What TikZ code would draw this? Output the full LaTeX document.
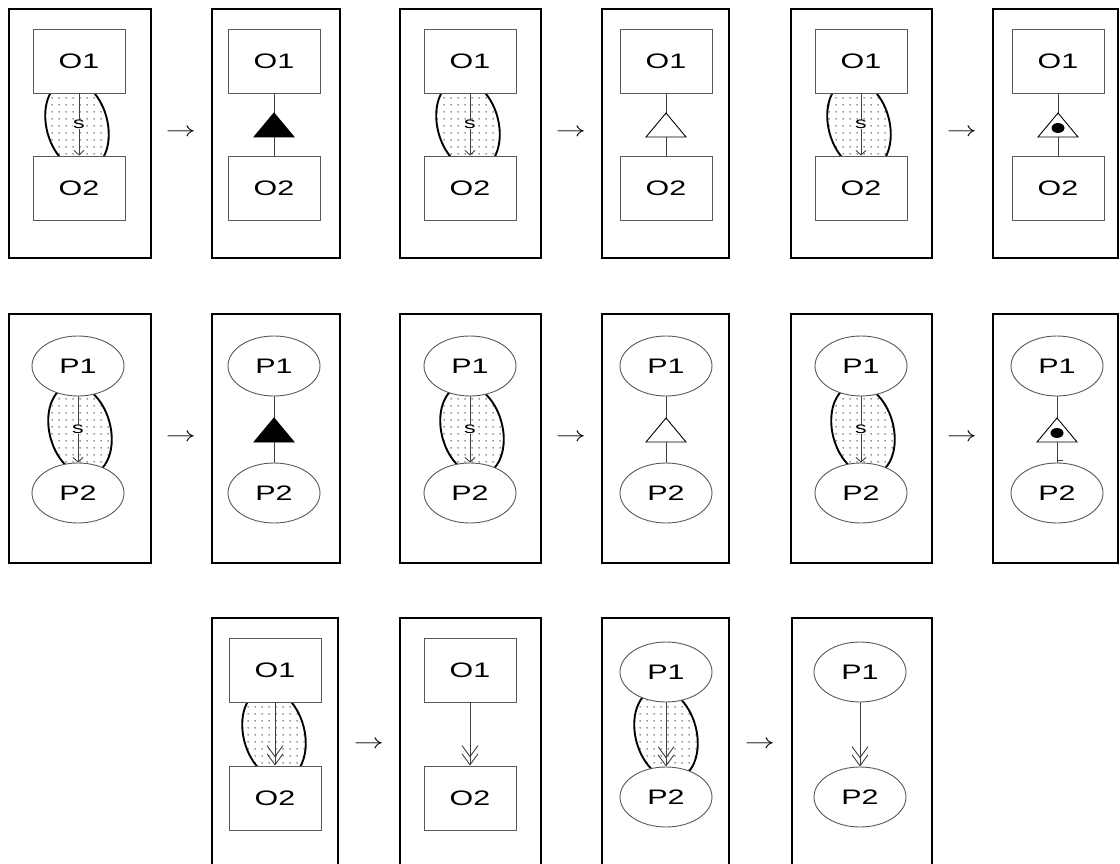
\documentclass[tikz,border=0pt]{standalone}
\usepackage{fontspec}
\setmainfont{Liberation Sans}
\usepackage{graphicx}
\usetikzlibrary{shapes.geometric,arrows.meta,patterns.meta}
\definecolor{boxgray}{gray}{0.35}
\definecolor{linegray}{gray}{0.25}
\tikzdeclarepattern{
  name=sdots,
  type=uncolored,
  bounding box={(0pt,0pt) and (7pt,7pt)},
  tile size={(7pt,7pt)},
  code={\pgfpathcircle{\pgfpoint{3.5pt}{3.5pt}}{1pt}\pgfusepath{fill}}
}
\newcommand{\wt}[1]{\scalebox{1.45}[1]{#1}}
\tikzset{
  frame/.style={draw=black,line width=2.3pt},
  obox/.style={rectangle,draw=boxgray,line width=0.9pt,fill=white,minimum width=92pt,minimum height=64pt,inner sep=0pt,font=\fontsize{21}{24}\selectfont},
  pell/.style={ellipse,draw=boxgray,line width=0.9pt,fill=white,minimum width=92pt,minimum height=60pt,inner sep=0pt,font=\fontsize{21}{24}\selectfont},
  blob/.style={ellipse,draw=black,line width=1.9pt,pattern=sdots,pattern color=black!55,minimum width=61pt,minimum height=92pt,inner sep=0pt,rotate=15},
  conn/.style={draw=linegray,line width=0.9pt},
  sarrow/.style={conn,-{Straight Barb[length=4.5pt,width=10pt]}},
  darrow/.style={conn,-{Straight Barb[length=11pt,width=16pt,sep=-4pt]Straight Barb[length=11pt,width=16pt]}},
  slab/.style={fill=white,inner sep=0.6pt,font=\fontsize{16}{16}\selectfont},
  tri/.style={draw=black,line width=0.9pt},
  stepar/.style={inner sep=0pt,font=\fontsize{20}{20}\selectfont}
}
% #1 id, #2 left, #3 right, #4 cx, #5 dy, #6 shape, #7 letter, #8 blob cx
\newcommand{\BlobPanel}[8]{%
  \draw[frame] (#2,9+#5) rectangle (#3,258+#5);
  \node[blob] (#1b) at (#8,125+#5) {};
  \node[#6] (#1t) at (#4,61+#5) {\wt{#71}};
  \node[#6] (#1u) at (#4,188+#5) {\wt{#72}};
  \draw[sarrow] (#1t) -- node[slab]{\wt{s}} (#1u);
}
% #1 id, #2 left, #3 right, #4 cx, #5 dy, #6 shape, #7 letter, #8 fill, #9 dot
\newcommand{\TriPanel}[9]{%
  \draw[frame] (#2,9+#5) rectangle (#3,258+#5);
  \node[#6] (#1t) at (#4,61+#5) {\wt{#71}};
  \node[#6] (#1u) at (#4,188+#5) {\wt{#72}};
  \coordinate (#1a) at (#4,113+#5);
  \coordinate (#1c) at (#4,137+#5);
  \draw[conn] (#1t) -- (#1a);
  \draw[conn] (#1c) -- (#1u);
  \draw[tri,fill=#8] (#1a) -- ([xshift=-20pt]#1c) -- ([xshift=20pt]#1c) -- cycle;
  \ifnum#9=1 \fill (#4,128+#5) ellipse [x radius=6.5, y radius=5];\fi
}
\begin{document}
\begin{tikzpicture}[x=1pt,y=-1pt]
\useasboundingbox (0,0) rectangle (1120,864);
% Row 1
\BlobPanel{ra}{9}{151}{79}{0}{obox}{O}{77}
\TriPanel{rb}{212}{340}{274}{0}{obox}{O}{black}{0}
\BlobPanel{rc}{400}{541}{470}{0}{obox}{O}{468}
\TriPanel{rd}{602}{729}{666}{0}{obox}{O}{white}{0}
\BlobPanel{re}{791}{932}{861}{0}{obox}{O}{859}
\TriPanel{rf}{993}{1118}{1058}{0}{obox}{O}{white}{1}
\node[stepar] (s1) at (181,133) {\wt{$\rightarrow$}};
\node[stepar] (s2) at (571,133) {\wt{$\rightarrow$}};
\node[stepar] (s3) at (962,133) {\wt{$\rightarrow$}};
% Row 2
\BlobPanel{qa}{9}{151}{78}{305}{pell}{P}{80}
\TriPanel{qb}{212}{340}{274}{305}{pell}{P}{black}{0}
\BlobPanel{qc}{400}{541}{470}{305}{pell}{P}{472}
\TriPanel{qd}{602}{729}{666}{305}{pell}{P}{white}{0}
\BlobPanel{qe}{791}{932}{861}{305}{pell}{P}{863}
\TriPanel{qf}{993}{1118}{1057}{305}{pell}{P}{white}{1}
\coordinate (qftick0) at (1057,460);
\coordinate (qftick) at (1063,460);
\draw[conn] (qftick0) -- (qftick);
\node[stepar] (s4) at (181,438) {\wt{$\rightarrow$}};
\node[stepar] (s5) at (571,438) {\wt{$\rightarrow$}};
\node[stepar] (s6) at (962,438) {\wt{$\rightarrow$}};
% Row 3
\draw[frame] (212,870) -- (212,618) -- (338,618) -- (338,870);
\node[blob] (pab) at (274,734) {};
\node[obox] (pat) at (275,670) {\wt{O1}};
\node[obox] (pau) at (275,798) {\wt{O2}};
\draw[darrow] (pat) -- (pau);
\draw[frame] (400,870) -- (400,618) -- (541,618) -- (541,870);
\node[obox] (pbt) at (470,670) {\wt{O1}};
\node[obox] (pbu) at (470,798) {\wt{O2}};
\draw[darrow] (pbt) -- (pbu);
\draw[frame] (602,870) -- (602,618) -- (729,618) -- (729,870);
\node[blob] (pcb) at (666,734) {};
\node[pell] (pct) at (666,672) {\wt{P1}};
\node[pell] (pcu) at (666,797) {\wt{P2}};
\draw[darrow] (pct) -- (pcu);
\draw[frame] (792,870) -- (792,618) -- (932,618) -- (932,870);
\node[pell] (pdt) at (860,672) {\wt{P1}};
\node[pell] (pdu) at (860,797) {\wt{P2}};
\draw[darrow] (pdt) -- (pdu);
\node[stepar] (s7) at (369,745) {\wt{$\rightarrow$}};
\node[stepar] (s8) at (760,745) {\wt{$\rightarrow$}};
\end{tikzpicture}
\end{document}
